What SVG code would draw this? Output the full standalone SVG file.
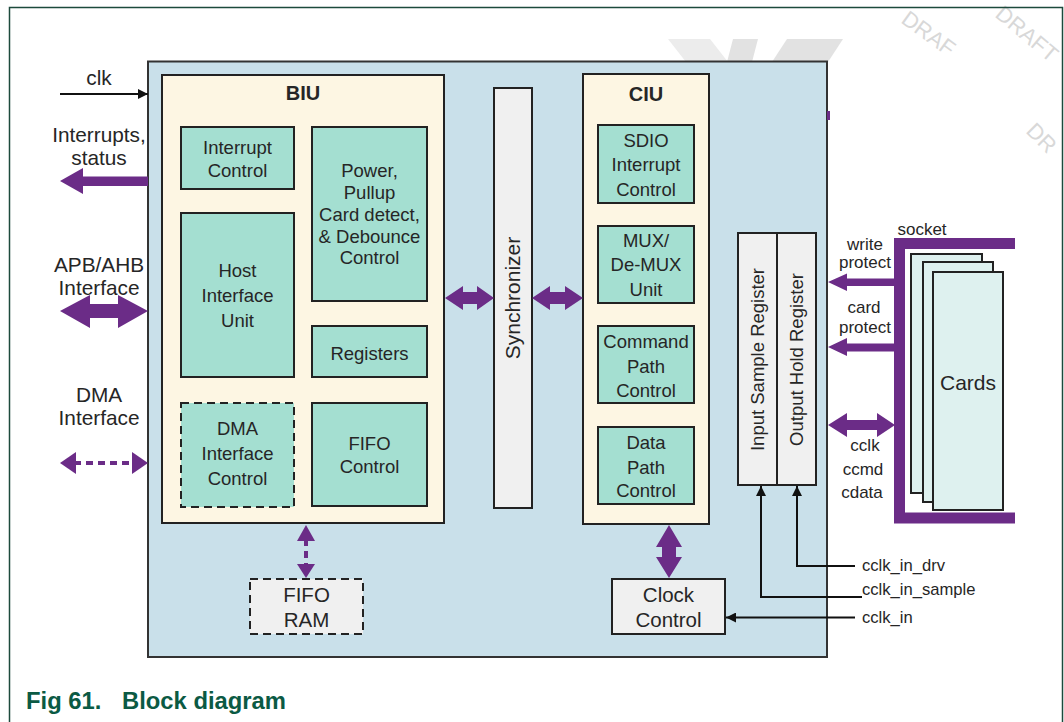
<svg xmlns="http://www.w3.org/2000/svg" width="1064" height="722" viewBox="0 0 1064 722">
<style>
text{font-family:"Liberation Sans",Arial,sans-serif;fill:#262626}
.lbl{font-size:20.8px;text-anchor:middle}
.bx{font-size:18.5px;text-anchor:middle}
.big{font-size:20.5px;text-anchor:middle}
.rl{font-size:17px;text-anchor:middle}
.bl{font-size:16.6px}
.ttl{font-size:20px;font-weight:bold;text-anchor:middle}
.teal{fill:#a4dfd1;stroke:#222;stroke-width:2}
.cream{fill:#fdf6e3;stroke:#222;stroke-width:2}
.grey{fill:#f0f0f0;stroke:#222;stroke-width:2}
.dash{stroke-dasharray:8,5}
.pur{fill:#6b2c87}
.pdash{stroke:#6b2c87;stroke-width:4;stroke-dasharray:7,5;fill:none}
.wire{stroke:#111;stroke-width:2;fill:none}
.wm{font-size:22px;fill:#d8d8d8;font-family:"Liberation Sans",Arial,sans-serif}
.cap{font-size:23.8px;font-weight:bold;fill:#0b5a44}
</style>
<defs>
<marker id="ah" viewBox="0 0 10 10" refX="10" refY="5" markerWidth="10" markerHeight="10" markerUnits="userSpaceOnUse" orient="auto">
<path d="M0,0 L10,5 L0,10 Z" fill="#111"/>
</marker>
</defs>
<rect width="1064" height="722" fill="#fff"/>
<!-- watermark -->
<g id="watermark">
<polygon points="668,39 710,39 728,62 686,62" fill="#ececec"/>
<polygon points="733,39 758,39 752,62 727,62" fill="#e2e2e2"/>
<polygon points="787,39 843,39 828,62 772,62" fill="#e2e2e2"/>
<text class="wm" transform="translate(900,22) rotate(36)">DRAF</text>
<text class="wm" transform="translate(994,16) rotate(40)">DRAFT</text>
<text class="wm" transform="translate(1025,132) rotate(45)">DR</text>
</g>
<!-- frame -->
<path d="M9.5,722 V7.5 H1062.5 V722" fill="none" stroke="#1c4a3c" stroke-width="1.5"/>
<!-- main box -->
<g id="main">
<rect x="148" y="61.5" width="679" height="595.5" fill="#c9e0ea" stroke="#333" stroke-width="2"/>
<rect x="827" y="111" width="3" height="9" class="pur"/>
</g>
<g id="biu">
<rect x="162" y="75" width="282" height="448" class="cream"/>
<text class="ttl" x="303" y="100">BIU</text>
</g>
<g id="interrupt-control">
<rect x="181" y="127" width="113" height="62" class="teal"/>
<text class="bx" x="237.5" y="154">Interrupt</text>
<text class="bx" x="237.5" y="177">Control</text>
</g>
<g id="power">
<rect x="312" y="127" width="115" height="174" class="teal"/>
<text class="bx" x="369.5" y="177">Power,</text>
<text class="bx" x="369.5" y="199">Pullup</text>
<text class="bx" x="369.5" y="221">Card detect,</text>
<text class="bx" x="369.5" y="243">&amp; Debounce</text>
<text class="bx" x="369.5" y="264">Control</text>
</g>
<g id="host-interface">
<rect x="181" y="213" width="113" height="164" class="teal"/>
<text class="bx" x="237.5" y="277">Host</text>
<text class="bx" x="237.5" y="302">Interface</text>
<text class="bx" x="237.5" y="327">Unit</text>
</g>
<g id="registers">
<rect x="312" y="326" width="115" height="51" class="teal"/>
<text class="bx" x="369.5" y="360">Registers</text>
</g>
<g id="dma-control">
<rect x="181" y="403" width="113" height="104" class="teal dash"/>
<text class="bx" x="237.5" y="435">DMA</text>
<text class="bx" x="237.5" y="460">Interface</text>
<text class="bx" x="237.5" y="485">Control</text>
</g>
<g id="fifo-control">
<rect x="312" y="403" width="115" height="103" class="teal"/>
<text class="bx" x="369.5" y="450">FIFO</text>
<text class="bx" x="369.5" y="473">Control</text>
</g>
<g id="synchronizer">
<rect x="494" y="88" width="38" height="420" class="grey"/>
<text class="bx" style="font-size:21px" transform="translate(513,298) rotate(-90)" y="7">Synchronizer</text>
</g>
<g id="ciu">
<rect x="583" y="74" width="126" height="450" class="cream"/>
<text class="ttl" x="646" y="101">CIU</text>
</g>
<g id="sdio">
<rect x="598" y="125" width="96" height="78" class="teal"/>
<text class="bx" x="646" y="147">SDIO</text>
<text class="bx" x="646" y="171">Interrupt</text>
<text class="bx" x="646" y="196">Control</text>
</g>
<g id="mux">
<rect x="598" y="226" width="96" height="77" class="teal"/>
<text class="bx" x="646" y="247">MUX/</text>
<text class="bx" x="646" y="271">De-MUX</text>
<text class="bx" x="646" y="296">Unit</text>
</g>
<g id="command-path">
<rect x="598" y="326" width="96" height="77" class="teal"/>
<text class="bx" x="646" y="348">Command</text>
<text class="bx" x="646" y="373">Path</text>
<text class="bx" x="646" y="397">Control</text>
</g>
<g id="data-path">
<rect x="598" y="427" width="96" height="77" class="teal"/>
<text class="bx" x="646" y="449">Data</text>
<text class="bx" x="646" y="474">Path</text>
<text class="bx" x="646" y="497">Control</text>
</g>
<g id="io-registers">
<rect x="738" y="233" width="78" height="252" class="grey"/>
<line x1="777" y1="233" x2="777" y2="485" stroke="#222" stroke-width="2"/>
<text class="bx" transform="translate(757.5,359.5) rotate(-90)" y="6.5">Input Sample Register</text>
<text class="bx" transform="translate(796.5,359.5) rotate(-90)" y="6.5">Output Hold Register</text>
</g>
<g id="clock-control">
<rect x="612" y="579" width="113" height="55" class="grey"/>
<text class="big" x="668.5" y="602">Clock</text>
<text class="big" x="668.5" y="627">Control</text>
</g>
<g id="fifo-ram">
<rect x="250" y="579" width="113" height="55" class="grey dash"/>
<text class="big" x="306.5" y="602">FIFO</text>
<text class="big" x="306.5" y="627">RAM</text>
</g>
<g id="cards">
<rect x="911" y="254" width="71" height="239" fill="#def1ef" stroke="#222" stroke-width="2"/>
<rect x="923" y="262" width="70" height="240" fill="#def1ef" stroke="#222" stroke-width="2"/>
<rect x="933" y="272" width="70" height="238" fill="#def1ef" stroke="#222" stroke-width="2"/>
<text class="big" style="font-size:21px" x="968" y="390">Cards</text>
</g>
<g id="socket">
<path d="M1015,243.5 H899.5 V518 H1015" fill="none" stroke="#6b2c87" stroke-width="11"/>
<text class="rl" x="922" y="235">socket</text>
</g>
<!-- labels -->
<g id="labels">
<text class="lbl" x="99" y="85">clk</text>
<text class="lbl" x="99" y="142">Interrupts,</text>
<text class="lbl" x="99" y="165">status</text>
<text class="lbl" x="99" y="272">APB/AHB</text>
<text class="lbl" x="99" y="295">Interface</text>
<text class="lbl" x="99" y="402">DMA</text>
<text class="lbl" x="99" y="425">Interface</text>
<text class="rl" x="865" y="250">write</text>
<text class="rl" x="865" y="268">protect</text>
<text class="rl" x="864" y="313">card</text>
<text class="rl" x="865" y="333">protect</text>
<text class="rl" x="865" y="451">cclk</text>
<text class="rl" x="863" y="475">ccmd</text>
<text class="rl" x="862" y="498">cdata</text>
<text class="bl" x="862" y="571">cclk_in_drv</text>
<text class="bl" x="862" y="595">cclk_in_sample</text>
<text class="bl" x="862" y="623">cclk_in</text>
</g>
<!-- connectors -->
<g id="connectors">
<line x1="60" y1="94" x2="148" y2="94" class="wire" marker-end="url(#ah)"/>
<polygon class="pur" points="60,181 83,168 83,176.5 148,176.5 148,186 83,186 83,194"/>
<polygon class="pur" points="60,311 90,295 90,304 118,304 118,295 148,311 118,328 118,318 90,318 90,328"/>
<line x1="74" y1="463" x2="134" y2="463" class="pdash"/>
<polygon class="pur" points="60,463 76,452 76,474"/>
<polygon class="pur" points="148,463 132,452 132,474"/>
<polygon class="pur" points="445,298 463,286 463,292 477,292 477,286 494,298 477,310 477,304 463,304 463,310"/>
<polygon class="pur" points="532,298 550,286 550,292 565,292 565,286 583,298 565,310 565,304 550,304 550,310"/>
<polygon class="pur" points="669,525 682,547 676,547 676,557 682,557 669,578 656,557 662,557 662,547 656,547"/>
<line x1="306" y1="539" x2="306" y2="568" class="pdash"/>
<polygon class="pur" points="306,525 297,541 315,541"/>
<polygon class="pur" points="306,578 297,564 315,564"/>
<polygon class="pur" points="828,282 847,273.5 847,278.5 895,278.5 895,286 847,286 847,291"/>
<polygon class="pur" points="828,347 847,338 847,343.5 895,343.5 895,351.5 847,351.5 847,356"/>
<polygon class="pur" points="828,425 847,413 847,420 877,420 877,413 895,425 877,437 877,430 847,430 847,437"/>
<polyline points="855,566 797,566 797,486" class="wire" marker-end="url(#ah)"/>
<polyline points="862,597 761,597 761,486" class="wire" marker-end="url(#ah)"/>
<line x1="855" y1="617.5" x2="726" y2="617.5" class="wire" marker-end="url(#ah)"/>
</g>
<g id="caption">
<text class="cap" x="26" y="709">Fig 61.</text>
<text class="cap" x="122" y="709">Block diagram</text>
</g>
</svg>
